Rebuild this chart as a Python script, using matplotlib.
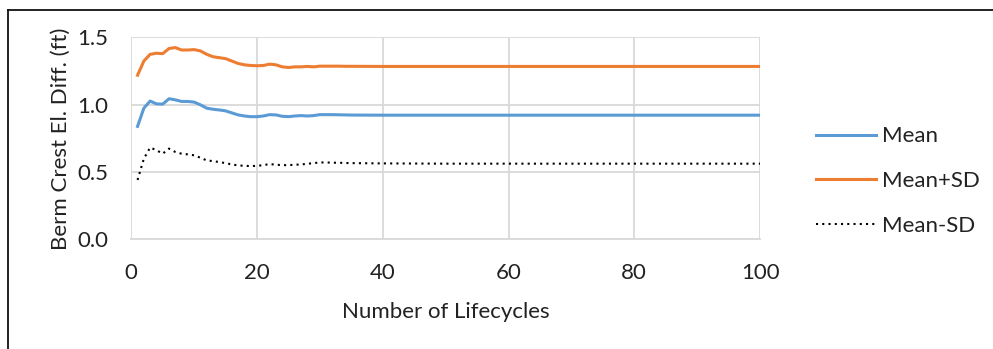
import matplotlib
matplotlib.use("Agg")
import matplotlib.pyplot as plt
from matplotlib.lines import Line2D

# Dati (numero di cicli vs differenza quota cresta berma)
cycles = list(range(1, 36)) + [40, 50, 60, 70, 80, 90, 100]

mean = [0.84, 0.975, 1.028, 1.007, 1.005, 1.045, 1.037, 1.025, 1.025, 1.02,
        1.0, 0.975, 0.967, 0.962, 0.955, 0.94, 0.925, 0.917, 0.912, 0.912,
        0.917, 0.927, 0.925, 0.915, 0.912, 0.917, 0.92, 0.917, 0.92, 0.927,
        0.927, 0.927, 0.926, 0.925, 0.924,
        0.923, 0.923, 0.923, 0.923, 0.923, 0.923, 0.923]

mean_plus_sd = [1.22, 1.325, 1.375, 1.383, 1.38, 1.418, 1.425, 1.407, 1.407, 1.41,
                1.40, 1.375, 1.357, 1.35, 1.343, 1.325, 1.307, 1.297, 1.292, 1.29,
                1.292, 1.302, 1.297, 1.282, 1.277, 1.282, 1.282, 1.285, 1.282, 1.287,
                1.287, 1.287, 1.287, 1.286, 1.286,
                1.285, 1.285, 1.285, 1.285, 1.285, 1.285, 1.285]

mean_minus_sd = [0.442, 0.60, 0.683, 0.663, 0.637, 0.675, 0.65, 0.637, 0.632, 0.625,
                 0.607, 0.587, 0.582, 0.575, 0.567, 0.557, 0.55, 0.547, 0.545, 0.547,
                 0.552, 0.56, 0.555, 0.552, 0.552, 0.555, 0.557, 0.562, 0.567, 0.572,
                 0.572, 0.57, 0.57, 0.568, 0.567,
                 0.565, 0.563, 0.563, 0.563, 0.563, 0.563, 0.563]

x_ticks = [0, 20, 40, 60, 80, 100]
y_ticks = [0.0, 0.5, 1.0, 1.5]

plt.rcParams["font.family"] = ["Lato", "DejaVu Sans"]
text_color = "#222222"
grid_color = "#d9d9d9"
fs = 16

fig = plt.figure(figsize=(9.93, 3.49), dpi=100)
ax = fig.add_axes([0.1322, 0.3138, 0.6332, 0.5788])

ax.plot(cycles, mean, color="#5b9bd5", linewidth=2.2, label="Mean")
ax.plot(cycles, mean_plus_sd, color="#ed7d31", linewidth=2.2, label="Mean+SD")
ax.plot(cycles, mean_minus_sd, color="black", linewidth=1.5,
        linestyle=(0, (1, 2)), label="Mean-SD")

ax.set_xlim(0, 100)
ax.set_ylim(0, 1.5)
ax.set_xticks(x_ticks)
ax.set_yticks(y_ticks)
ax.set_yticklabels([f"{v:.1f}" for v in y_ticks])
ax.grid(True, color=grid_color, linewidth=1.3)
ax.set_axisbelow(True)
for side in ["top", "right", "left"]:
    ax.spines[side].set_visible(False)
ax.spines["bottom"].set_color(grid_color)
ax.spines["bottom"].set_linewidth(1.3)
ax.tick_params(length=0, labelsize=fs, colors=text_color)
ax.tick_params(axis="x", pad=17)
ax.tick_params(axis="y", pad=16.5)

ax.set_xlabel("Number of Lifecycles", fontsize=fs, color=text_color, labelpad=13.5)
ax.set_ylabel("Berm Crest El. Diff. (ft)", fontsize=fs, color=text_color, labelpad=5)

leg = fig.legend(loc="center left", bbox_to_anchor=(816 / 993, 1 - 181.2 / 349),
                 frameon=False, fontsize=fs, borderpad=0, borderaxespad=0,
                 handlelength=2.7, handletextpad=0.26, labelspacing=1.12)
for t in leg.get_texts():
    t.set_color(text_color)

# Bordo esterno (solo lato sinistro e superiore visibili)
y_top = 1 - 9.5 / 349
x_left = 7.5 / 993
fig.add_artist(Line2D([x_left, 1.0], [y_top, y_top], transform=fig.transFigure,
                      color="#111111", linewidth=1.3))
fig.add_artist(Line2D([x_left, x_left], [y_top, 0.0], transform=fig.transFigure,
                      color="#111111", linewidth=1.3))

fig.savefig("out.png", dpi=100)
